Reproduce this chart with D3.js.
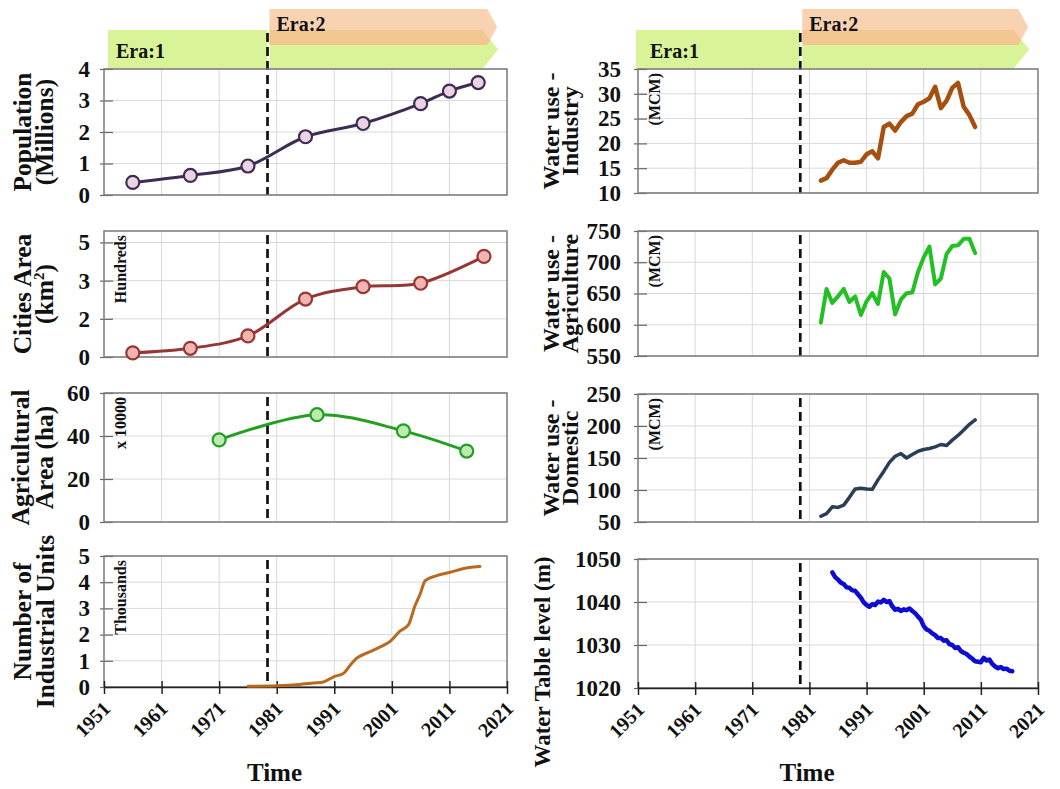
<!DOCTYPE html>
<html>
<head>
<meta charset="utf-8">
<script src="https://cdn.jsdelivr.net/npm/d3@7"></script>
<style>
  body { margin: 0; background: #fff; }
  svg { display: block; }
  text { font-family: "Liberation Serif", "Times New Roman", serif; font-weight: bold; fill: #111; }
</style>
</head>
<body>
<svg id="chart" width="1060" height="789"></svg>
<script>
// ---- Data ----
const decadeTicks = [1951, 1961, 1971, 1981, 1991, 2001, 2011, 2021];
const eraBoundary = 1979.4;

const popYears = [1956, 1966, 1976, 1986, 1996, 2006, 2011, 2016];
const popValues = [0.40, 0.62, 0.92, 1.85, 2.27, 2.90, 3.30, 3.57];

const cityYears = [1956, 1966, 1976, 1986, 1996, 2006, 2017];
const cityValues = [0.18, 0.38, 0.92, 2.53, 3.07, 3.22, 4.39];

const agriAreaYears = [1971, 1988, 2003, 2014];
const agriAreaValues = [38.2, 49.9, 42.4, 33.0];

const unitYears = [1976, 1981, 1985, 1987.4, 1989.1, 1990.9, 1992.6, 1993.8, 1994.9, 1996.6, 1998.9,
                   2000.7, 2002.4, 2003.9, 2005, 2005.9, 2006.8, 2008.8, 2011.1, 2014.4, 2016.3];
const unitValues = [0.03, 0.05, 0.10, 0.15, 0.19, 0.39, 0.52, 0.84, 1.10, 1.29, 1.52,
                    1.74, 2.13, 2.38, 3.09, 3.54, 4.06, 4.25, 4.38, 4.56, 4.60];

const useYears = d3.range(1983, 2011);
const industryUse = [12.5, 13.0, 14.7, 16.1, 16.6, 16.1, 16.1, 16.3, 17.8, 18.4, 17.0, 23.3, 24.0, 22.6,
                     24.3, 25.5, 26.0, 27.9, 28.4, 29.1, 31.4, 27.1, 28.6, 31.2, 32.2, 27.4, 25.7, 23.3];
const agricultureUse = [603.6, 657.3, 634.9, 645.3, 657.3, 636.4, 645.3, 615.6, 637.5, 650.5, 633.3, 684.4,
                        674.0, 616.6, 640.1, 650.5, 651.5, 684.4, 707.8, 725.0, 664.6, 674.0, 713.0, 726.0,
                        727.1, 737.5, 737.5, 714.6];
const domesticUse = [59.0, 63.2, 73.7, 72.7, 76.4, 88.5, 101.6, 102.7, 101.6, 101.1, 115.8, 129.0, 143.2, 152.7,
                     156.9, 150.0, 155.3, 160.6, 163.2, 164.8, 167.4, 171.1, 169.5, 177.9, 185.3, 193.7, 202.6, 209.5];

const tableYears = d3.range(1985, 2017, 0.5);
const tableLevels = [1046.9, 1045.8, 1045.2, 1044.5, 1044.2, 1043.4, 1043.3, 1042.7, 1042.6, 1041.8,
                     1041.0, 1039.9, 1039.3, 1038.9, 1039.5, 1039.3, 1040.1, 1039.9, 1040.5, 1040.0,
                     1040.2, 1039.0, 1038.2, 1038.4, 1037.9, 1038.3, 1038.1, 1038.5, 1037.9, 1037.4,
                     1036.6, 1035.9, 1034.4, 1033.6, 1033.3, 1032.7, 1032.3, 1031.6, 1031.6, 1031.0,
                     1031.1, 1030.2, 1030.0, 1029.3, 1029.5, 1028.6, 1028.2, 1027.9, 1027.3, 1026.8,
                     1026.2, 1026.1, 1026.0, 1027.0, 1026.4, 1026.6, 1025.6, 1025.0, 1024.6, 1024.9,
                     1024.4, 1024.5, 1024.0, 1023.9];

// ---- Layout ----
const svg = d3.select("#chart");
const xLeft = d3.scaleLinear().domain([1951, 2021]).range([104, 507]);
const xRight = d3.scaleLinear().domain([1951, 2021]).range([638, 1038]);

const GRID = "#d9d9d9", BORDER = "#7a7a7a";
const SERIF = '"Liberation Serif", "Times New Roman", serif';

const panels = [
  { x: xLeft, top: 69, bottom: 195, domain: [0, 4], ticks: [0, 1, 2, 3, 4],
    title: ["Population", "(Millions)"], titleX: [31, 53], titleSize: 25.5, banner: true,
    series: { xs: popYears, ys: popValues, color: "#3d2d55", fill: "#ecd3e4", width: 3, markers: true, curve: d3.curveCatmullRom } },
  { x: xLeft, top: 231, bottom: 357, domain: [0, 5.5], ticks: [0, 5 / 3, 10 / 3, 5],
    title: ["Cities Area", "(km2)"], titleX: [31, 53], titleSize: 25.5, unit: "Hundreds",
    series: { xs: cityYears, ys: cityValues, color: "#953735", fill: "#f2b4b0", width: 3, markers: true, curve: d3.curveCatmullRom } },
  { x: xLeft, top: 393, bottom: 522, domain: [0, 60], ticks: [0, 20, 40, 60],
    title: ["Agricultural", "Area (ha)"], titleX: [29, 53], titleSize: 25.5, unit: "x 10000",
    series: { xs: agriAreaYears, ys: agriAreaValues, color: "#23a023", fill: "#bdeab0", width: 3, markers: true, curve: d3.curveCatmullRom } },
  { x: xLeft, top: 556, bottom: 687, domain: [0, 5], ticks: [0, 1, 2, 3, 4, 5],
    title: ["Number of", "Industrial Units"], titleX: [31, 54], titleSize: 25.5, unit: "Thousands", xAxis: true,
    series: { xs: unitYears, ys: unitValues, color: "#b8691f", width: 3, curve: d3.curveMonotoneX } },

  { x: xRight, top: 69, bottom: 193, domain: [10, 35], ticks: [10, 15, 20, 25, 30, 35],
    title: ["Water use -", "Industry"], titleX: [559, 578], titleSize: 24, unit: "(MCM)", banner: true,
    series: { xs: useYears, ys: industryUse, color: "#a5500e", width: 4.5, curve: d3.curveLinear } },
  { x: xRight, top: 231, bottom: 356, domain: [550, 750], ticks: [550, 600, 650, 700, 750],
    title: ["Water use -", "Agriculture"], titleX: [559, 578], titleSize: 24, unit: "(MCM)",
    series: { xs: useYears, ys: agricultureUse, color: "#22c022", width: 4, curve: d3.curveLinear } },
  { x: xRight, top: 394, bottom: 522, domain: [50, 250], ticks: [50, 100, 150, 200, 250],
    title: ["Water use -", "Domestic"], titleX: [559, 578], titleSize: 24, unit: "(MCM)",
    series: { xs: useYears, ys: domesticUse, color: "#2b3e58", width: 3.5, curve: d3.curveLinear } },
  { x: xRight, top: 559, bottom: 688, domain: [1020, 1050], ticks: [1020, 1030, 1040, 1050],
    title: ["Water Table level (m)"], titleX: [550], titleSize: 23, titleY: 662, xAxis: true,
    series: { xs: tableYears, ys: tableLevels, color: "#0d0dd2", width: 4.5, curve: d3.curveLinear } }
];

// ---- Era banners ----
function drawBanner(x, id) {
  const g = svg.append("g");
  const xb = x(eraBoundary);
  const x0 = x.range()[0];
  const tip = x(2019.3);
  const left = x0 + (id === "L" ? 4 : -2);
  // Era 1 block
  g.append("rect").attr("x", left).attr("y", 30)
    .attr("width", xb - left).attr("height", 39).attr("fill", "#d8f398");
  // Era 2 chevrons
  const greenPts = [[xb + 2, 30], [tip - 15, 30], [tip + 1, 49.5], [tip - 15, 69], [xb + 2, 69]];
  const orangePts = [[xb + 2, 9], [tip - 10, 9], [tip, 27], [tip - 10, 45], [xb + 2, 45]];
  const clipId = "clip" + id;
  svg.append("defs").append("clipPath").attr("id", clipId)
    .append("polygon").attr("points", greenPts.map(p => p.join(",")).join(" "));
  g.append("polygon").attr("points", greenPts.map(p => p.join(",")).join(" ")).attr("fill", "#d8f398");
  g.append("polygon").attr("points", orangePts.map(p => p.join(",")).join(" ")).attr("fill", "#f9d2b2");
  g.append("polygon").attr("points", orangePts.map(p => p.join(",")).join(" ")).attr("fill", "#f2c591")
    .attr("clip-path", `url(#${clipId})`);
  g.append("text").attr("x", x0 + 12).attr("y", 58).attr("font-size", 20).text("Era:1");
  g.append("text").attr("x", xb + 9).attr("y", 31).attr("font-size", 20).text("Era:2");
}
drawBanner(xLeft, "L");
drawBanner(xRight, "R");

// ---- Panels ----
panels.forEach(p => {
  const x = p.x;
  const [x0, x1] = x.range();
  const y = d3.scaleLinear().domain(p.domain).range([p.bottom, p.top]);
  const g = svg.append("g");

  // grid
  g.append("g").selectAll("line").data(decadeTicks.slice(1, -1)).join("line")
    .attr("x1", d => x(d)).attr("x2", d => x(d)).attr("y1", p.top).attr("y2", p.bottom)
    .attr("stroke", GRID).attr("stroke-width", 1);
  g.append("g").selectAll("line").data(p.ticks).join("line")
    .attr("x1", x0).attr("x2", x1).attr("y1", d => y(d)).attr("y2", d => y(d))
    .attr("stroke", GRID).attr("stroke-width", 1);

  // y axis labels + tick marks
  const yAxis = d3.axisLeft(y).tickValues(p.ticks).tickFormat(d3.format(".0f"))
    .tickSizeInner(5).tickSizeOuter(0).tickPadding(x0 === 104 ? 9 : 12);
  const ya = g.append("g").attr("transform", `translate(${x0},0)`).call(yAxis);
  ya.select(".domain").remove();
  ya.selectAll(".tick line").attr("x2", 9).attr("x1", -4).attr("stroke", "#666").attr("stroke-width", 1.2);
  ya.selectAll(".tick text").attr("font-size", 23)
    .attr("font-family", SERIF).attr("font-weight", "bold").attr("fill", "#111");

  // era boundary
  g.append("line").attr("x1", x(eraBoundary)).attr("x2", x(eraBoundary))
    .attr("y1", p.banner ? 33 : p.top + 4).attr("y2", p.bottom)
    .attr("stroke", "#111").attr("stroke-width", 2.7).attr("stroke-dasharray", "9,5");

  // border
  g.append("rect").attr("x", x0).attr("y", p.top).attr("width", x1 - x0).attr("height", p.bottom - p.top)
    .attr("fill", "none").attr("stroke", BORDER).attr("stroke-width", 1.5);

  // x axis on the bottom row
  if (p.xAxis) {
    const xa = g.append("g").attr("transform", `translate(0,${p.bottom})`)
      .call(d3.axisBottom(x).tickValues(decadeTicks).tickFormat(d3.format("d")).tickSize(7).tickSizeOuter(0));
    xa.select(".domain").attr("stroke", "#222").attr("stroke-width", 1.6);
    xa.selectAll(".tick line").attr("y1", -6).attr("y2", 7).attr("stroke", "#222").attr("stroke-width", 1.5);
    xa.selectAll(".tick text")
      .attr("font-size", 20).attr("font-family", SERIF)
      .attr("font-weight", "bold").attr("fill", "#111")
      .attr("text-anchor", "end").attr("y", 0).attr("dy", "0.35em")
      .attr("transform", "translate(2,18) rotate(-45)");
    g.append("text").attr("x", (x0 + x1) / 2 - 31).attr("y", 781).attr("font-size", 25)
      .attr("text-anchor", "middle").text("Time");
  }

  // series
  const s = p.series;
  const pts = s.xs.map((d, i) => [x(d), y(s.ys[i])]);
  g.append("path").attr("d", d3.line().curve(s.curve)(pts))
    .attr("fill", "none").attr("stroke", s.color).attr("stroke-width", s.width)
    .attr("stroke-linejoin", "round").attr("stroke-linecap", "round");
  if (s.markers) {
    g.selectAll("circle").data(pts).join("circle")
      .attr("cx", d => d[0]).attr("cy", d => d[1]).attr("r", 6.5)
      .attr("fill", s.fill).attr("stroke", s.color).attr("stroke-width", 2.2);
  }

  // unit note inside the plot
  if (p.unit) {
    g.append("text").attr("transform", `translate(${x0 + 22},${p.top + 4}) rotate(-90)`)
      .attr("text-anchor", "end").attr("font-size", 16).text(p.unit);
  }

  // y title
  const cy = p.titleY || (p.top + p.bottom) / 2;
  p.title.forEach((line, i) => {
    const t = g.append("text").attr("transform", `translate(${p.titleX[i]},${cy}) rotate(-90)`)
      .attr("text-anchor", "middle").attr("font-size", p.titleSize);
    if (line === "(km2)") {
      t.append("tspan").text("(km");
      t.append("tspan").attr("font-size", 15).attr("dy", -9).text("2");
      t.append("tspan").attr("dy", 9).text(")");
    } else {
      t.text(line);
    }
  });
});
</script>
</body>
</html>
